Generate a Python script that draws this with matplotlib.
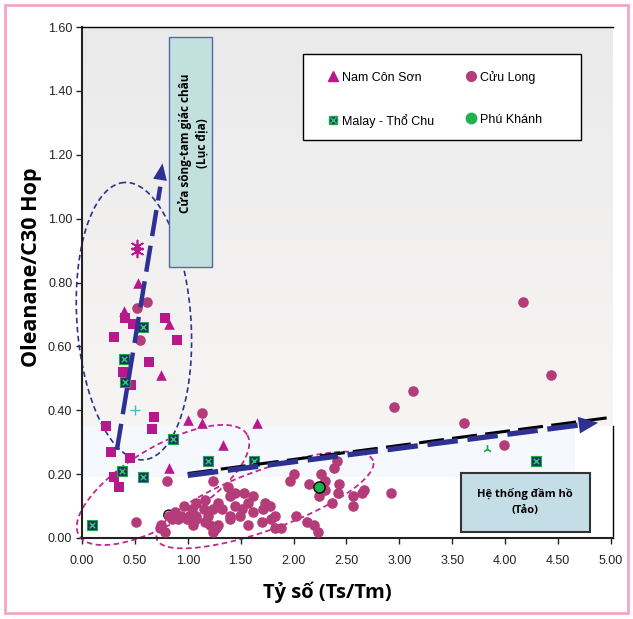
import numpy as np
import matplotlib
matplotlib.use("Agg")
import matplotlib.pyplot as plt
from matplotlib.lines import Line2D
from matplotlib.patches import Rectangle

plt.rcParams["font.family"] = ["Liberation Sans", "DejaVu Sans"]
plt.rcParams["lines.scale_dashes"] = False

# Nam Côn Sơn (tam giác)
nam_x = [0.53, 0.40, 0.82, 0.75, 1.00, 1.13, 1.65, 1.33, 0.82]
nam_y = [0.80, 0.71, 0.67, 0.51, 0.37, 0.36, 0.36, 0.29, 0.22]

# ô vuông hồng (không có trong chú thích)
sq_x = [0.41, 0.48, 0.78, 0.30, 0.90, 0.63, 0.39, 0.46, 0.68, 0.66, 0.23, 0.27, 0.45, 0.30, 0.35]
sq_y = [0.69, 0.67, 0.69, 0.63, 0.62, 0.55, 0.52, 0.48, 0.38, 0.34, 0.35, 0.27, 0.25, 0.19, 0.16]

# Malay - Thổ Chu
malay_x = [0.58, 0.40, 0.41, 0.86, 0.38, 0.58, 0.09, 1.19, 1.63, 4.29]
malay_y = [0.66, 0.56, 0.49, 0.31, 0.21, 0.19, 0.04, 0.24, 0.24, 0.24]

# Cửu Long
cuu_x = [0.61, 0.52, 0.55, 1.13, 0.80, 1.24, 0.51,
         4.17, 4.43, 3.13, 2.95, 3.61, 3.99, 2.92,
         2.41, 2.38, 2.00, 2.26, 2.30, 1.97, 2.15, 2.43, 2.30, 2.24, 2.42, 2.56,
         2.67, 2.65, 2.36, 2.56, 1.78, 2.02, 1.82, 1.79, 2.13, 2.19, 2.23, 1.82, 1.88,
         1.38, 1.40, 1.45, 1.53, 1.62, 1.57, 1.08, 1.16, 1.29, 0.96, 1.04, 1.32, 1.45,
         1.51, 1.73, 1.71, 1.62, 1.24, 1.15, 0.88, 0.94, 1.01, 1.08, 1.19, 1.40, 1.49,
         0.82, 0.85, 0.91, 0.99, 1.08, 1.16, 1.40, 1.70, 0.75, 1.05, 1.21, 1.29, 1.57,
         0.74, 0.78, 1.24, 1.27]
cuu_y = [0.74, 0.72, 0.62, 0.39, 0.18, 0.18, 0.05,
         0.74, 0.51, 0.46, 0.41, 0.36, 0.29, 0.14,
         0.24, 0.22, 0.20, 0.20, 0.18, 0.18, 0.17, 0.17, 0.15, 0.13, 0.14, 0.13,
         0.15, 0.14, 0.11, 0.10, 0.10, 0.07, 0.07, 0.06, 0.05, 0.04, 0.02, 0.03, 0.03,
         0.16, 0.13, 0.14, 0.14, 0.13, 0.11, 0.11, 0.12, 0.11, 0.10, 0.09, 0.09, 0.10,
         0.09, 0.11, 0.09, 0.08, 0.09, 0.09, 0.08, 0.07, 0.07, 0.07, 0.07, 0.07, 0.07,
         0.07, 0.06, 0.06, 0.06, 0.06, 0.05, 0.06, 0.05, 0.04, 0.04, 0.04, 0.04, 0.04,
         0.03, 0.02, 0.02, 0.03]

# Phú Khánh
phu_x = [2.24]
phu_y = [0.16]

# các điểm lẻ khác
ast_x = [0.52, 0.52]
ast_y = [0.915, 0.90]
plus_x = [0.50]
plus_y = [0.40]
tri_x = [3.83]
tri_y = [0.28]
blk_x = [0.82]
blk_y = [0.072]

xticks = [0.0, 0.5, 1.0, 1.5, 2.0, 2.5, 3.0, 3.5, 4.0, 4.5, 5.0]
yticks = [0.0, 0.2, 0.4, 0.6, 0.8, 1.0, 1.2, 1.4, 1.6]

pink = "#b8188c"
rose = "#b43c78"
navy = "#1c2f6e"
green = "#22a84a"
arrow_blue = "#2e3192"
bold_font = ["Open Sans", "DejaVu Sans"]

XMAX = 5.02
SX = 531 / XMAX   # px / đơn vị
SY = 511 / 1.6


def ellipse(cx, cy, a, b, ang):
    t = np.linspace(0, 2 * np.pi, 300)
    th = np.radians(ang)
    u, v = a * np.cos(t), b * np.sin(t)
    return cx + (u * np.cos(th) - v * np.sin(th)) / SX, cy + (u * np.sin(th) + v * np.cos(th)) / SY


fig = plt.figure(figsize=(6.33, 6.19), dpi=100)
ax = fig.add_axes([82 / 633, 1 - 538 / 619, 531 / 633, 511 / 619])
ax.set_xlim(0, XMAX)
ax.set_ylim(0, 1.6)

# nền
grad = np.linspace(0, 1, 100)[:, None]
top_c = np.array([234, 234, 234]) / 255
bot_c = np.array([247, 245, 244]) / 255
img = top_c[None, None, :] * (1 - grad[:, :, None]) + bot_c[None, None, :] * grad[:, :, None]
ax.imshow(img, extent=[0, XMAX, 0.35, 1.6], aspect="auto", origin="upper", zorder=0)
ax.add_patch(Rectangle((0, 0.19), 4.66, 0.16, color="#f5f9fd", lw=0, zorder=0))

# ellipse
ex, ey = ellipse(0.491, 0.679, 139, 57, 94)
ax.plot(ex, ey, color=arrow_blue, lw=1.2, dashes=(4, 2.5), clip_on=False, zorder=2)
ex, ey = ellipse(0.766, 0.166, 98, 38, 31)
ax.plot(ex, ey, color="#c0288e", lw=1.3, dashes=(4, 2.5), clip_on=False, zorder=2)
ex, ey = ellipse(1.730, 0.119, 115, 30, 20)
ax.plot(ex, ey, color="#c0288e", lw=1.3, dashes=(4, 2.5), clip_on=False, zorder=2)

# điểm
ax.scatter(blk_x, blk_y, s=50, facecolor="none", edgecolor="black", lw=1, zorder=3)
ax.scatter(cuu_x, cuu_y, s=58, marker="o", color=rose, lw=0, zorder=4)
ax.scatter(sq_x, sq_y, s=50, marker="s", color=pink, lw=0, zorder=4)
ax.scatter(nam_x, nam_y, s=58, marker="^", color=pink, lw=0, zorder=4)
ax.scatter(malay_x, malay_y, s=42, marker="s", facecolor=navy, edgecolor=green, lw=0.8, zorder=5)
ax.scatter(malay_x, malay_y, s=16, marker="x", color="#2fd060", lw=1, zorder=6)
ax.scatter(phu_x, phu_y, s=65, marker="o", facecolor="#1db24e", edgecolor="black", lw=1, zorder=6)
ax.scatter(ast_x, ast_y, s=75, marker=(6, 2, 0), color=pink, lw=1.2, zorder=5)
ax.scatter(plus_x, plus_y, s=45, marker="+", color="#4ab8c0", lw=1, zorder=5)
ax.scatter(tri_x, tri_y, s=40, marker="2", color=green, lw=1.2, zorder=5)

# mũi tên: cửa sông
ax.plot([0.33, 0.74], [0.276, 1.10], color=arrow_blue, lw=3.2, dashes=(19, 7),
        dash_capstyle="butt", zorder=7)
ax.annotate("", xy=(0.762, 1.173), xytext=(0.33, 0.276),
            arrowprops=dict(arrowstyle="-|>,head_length=0.6,head_width=0.25", lw=0,
                            color=arrow_blue, shrinkA=0, shrinkB=0, mutation_scale=20),
            zorder=7)

# mũi tên: đầm hồ
ax.plot([1.0, 4.96], [0.202, 0.376], color="black", lw=2.2, dashes=(18, 6), zorder=7)
ax.plot([1.0, 4.80], [0.196, 0.358], color=arrow_blue, lw=3.8, dashes=(22, 7),
        dash_capstyle="butt", zorder=8)
ax.annotate("", xy=(4.88, 0.361), xytext=(1.0, 0.196),
            arrowprops=dict(arrowstyle="-|>,head_length=0.7,head_width=0.3", lw=0,
                            color=arrow_blue, shrinkA=0, shrinkB=0, mutation_scale=20),
            zorder=8)

# hộp chữ
ax.add_patch(Rectangle((0.822, 0.848), 0.407, 0.721, facecolor="#c2e1de",
                       edgecolor="#5867a8", lw=1, zorder=9))
ax.text(1.05, 1.236, "Cửa sông-tam giác châu\n(Lục địa)", rotation=90, ha="center", va="center",
        multialignment="center", fontsize=8.5, fontweight="bold", family=bold_font,
        linespacing=1.35, zorder=10)
ax.add_patch(Rectangle((3.582, 0.019), 1.22, 0.185, facecolor="#c5dde6",
                       edgecolor="#333333", lw=1.5, zorder=9, clip_on=False))
ax.text(4.19, 0.112, "Hệ thống đầm hồ\n(Tảo)", ha="center", va="center", multialignment="center",
        fontsize=8, fontweight="bold", family=bold_font, linespacing=1.6, zorder=10)

# chú thích
ax.add_patch(Rectangle((0.416, 0.779), 0.524, 0.168, transform=ax.transAxes, facecolor="white",
                       edgecolor="black", lw=1, zorder=11))
h_nam = Line2D([], [], ls="", marker="^", color=pink, ms=7)
h_cuu = Line2D([], [], ls="", marker="o", color=rose, ms=7)
h_mal = (Line2D([], [], ls="", marker="s", mfc=navy, mec=green, ms=6),
         Line2D([], [], ls="", marker="x", color="#2fd060", ms=4))
h_phu = Line2D([], [], ls="", marker="o", color="#1db24e", ms=7.5)
leg = ax.legend([h_nam, h_mal, h_cuu, h_phu], ["Nam Côn Sơn", "Malay - Thổ Chu", "Cửu Long", "Phú Khánh"],
                ncol=2, loc="upper left", bbox_to_anchor=(0.463, 0.914),
                fontsize=9, frameon=False, borderpad=0, labelspacing=2.4,
                handlelength=0.8, handletextpad=0.3, borderaxespad=0, columnspacing=2.6)
leg.set_zorder(12)

# trục
ax.set_xticks(xticks)
ax.set_xticklabels([f"{v:.2f}" for v in xticks])
ax.set_yticks(yticks)
ax.set_yticklabels([f"{v:.2f}" for v in yticks])
ax.tick_params(direction="out", length=4, width=1, labelsize=9, colors="#222222")
ax.tick_params(axis="x", pad=8)
ax.tick_params(axis="y", pad=3)
for s in ["left", "bottom"]:
    ax.spines[s].set_linewidth(1.5)
    ax.spines[s].set_color("#222222")
ax.spines["top"].set_linewidth(1)
ax.spines["right"].set_linewidth(1)
ax.spines["right"].set_bounds(0, 0.35)

ax.set_xlabel("Tỷ số (Ts/Tm)", fontsize=14.5, fontweight="bold", family=bold_font)
ax.xaxis.set_label_coords(0.462, -0.106)
ax.xaxis.label.set_va("center")
ax.set_ylabel("Oleanane/C30 Hop", fontsize=15.5, fontweight="bold", family=bold_font)
ax.yaxis.set_label_coords(-0.096, 0.53)
ax.yaxis.label.set_va("center")

# viền hồng
fig.add_artist(Rectangle((5 / 633, 6 / 619), 623 / 633, 608 / 619, transform=fig.transFigure,
                         fill=False, ec="#f2a6c6", lw=2))

fig.savefig("out.png", dpi=100)
